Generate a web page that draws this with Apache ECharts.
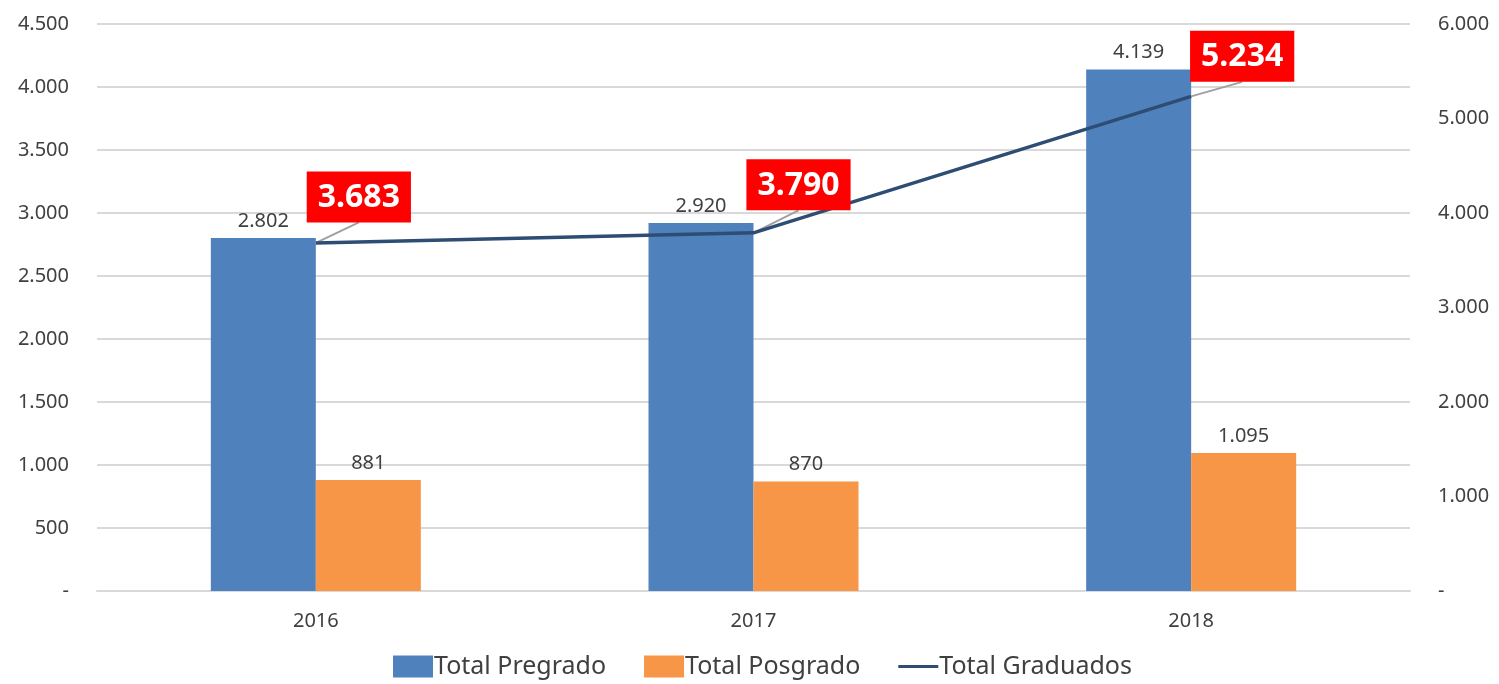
<!DOCTYPE html>
<html>
<head>
<meta charset="utf-8">
<script src="https://cdn.jsdelivr.net/npm/echarts@6/dist/echarts.min.js"></script>
<style>
  html, body { margin: 0; padding: 0; background: #fff; }
  #chart { width: 1499px; height: 684px; }
</style>
</head>
<body>
<div id="chart"></div>
<script>
// datos
const years = ['2016', '2017', '2018'];
const pregrado = [2802, 2920, 4139];
const posgrado = [881, 870, 1095];
const graduados = [3683, 3790, 5234];

// desplazamiento de las etiquetas rojas (px)
const labelShift = [[43, -15.5], [45, -17.5], [51, -9.5]];
const LABEL_DIST = 5;

const FONT = '"Noto Sans", "Open Sans", sans-serif';
const fmt = v => v === 0 ? '-' : String(v).replace(/\B(?=(\d{3})+(?!\d))/g, '.');

const chart = echarts.init(document.getElementById('chart'));
chart.setOption({
  animation: false,
  textStyle: { fontFamily: FONT },
  grid: { left: 97, right: 89, top: 24, bottom: 93 },
  legend: {
    bottom: 0,
    left: 388,
    itemGap: 38,
    itemWidth: 40,
    itemHeight: 22,
    textStyle: { fontSize: 25, color: '#404040', fontFamily: FONT, padding: [0, 0, 0, -4] },
    data: [
      { name: 'Total Pregrado', icon: 'rect' },
      { name: 'Total Posgrado', icon: 'rect' },
      { name: 'Total Graduados', icon: 'path://M0,0 M0,9.5 L40,9.5 L40,12.5 L0,12.5 Z M40,22' }
    ]
  },
  xAxis: {
    type: 'category',
    data: years,
    axisLine: { lineStyle: { color: '#d9d9d9', width: 2 } },
    axisTick: { show: false },
    axisLabel: { fontSize: 20, color: '#404040', margin: 20 }
  },
  yAxis: [
    {
      type: 'value', min: 0, max: 4500, interval: 500,
      axisLabel: { fontSize: 20, color: '#404040', margin: 28, formatter: fmt },
      splitLine: { lineStyle: { color: '#d9d9d9', width: 2 } },
      axisLine: { show: false }, axisTick: { show: false }
    },
    {
      type: 'value', min: 0, max: 6000, interval: 1000,
      position: 'right',
      axisLabel: { fontSize: 20, color: '#404040', margin: 28, formatter: fmt },
      splitLine: { show: false },
      axisLine: { show: false }, axisTick: { show: false }
    }
  ],
  series: [
    {
      name: 'Total Pregrado', type: 'bar', data: pregrado,
      barWidth: 105, barGap: '0%',
      itemStyle: { color: '#4f81bd' },
      label: { show: true, position: 'top', distance: 7, fontSize: 20, color: '#404040', formatter: p => fmt(p.value) }
    },
    {
      name: 'Total Posgrado', type: 'bar', data: posgrado,
      barWidth: 105,
      itemStyle: { color: '#f79646' },
      label: { show: true, position: 'top', distance: 7, fontSize: 20, color: '#404040', formatter: p => fmt(p.value) }
    },
    {
      // lineas guia hacia las etiquetas rojas
      type: 'custom', yAxisIndex: 1, z: 4,
      data: graduados.map((v, i) => [i, v]),
      silent: true,
      renderItem: (params, api) => {
        const pt = api.coord([api.value(0), api.value(1)]);
        const s = labelShift[params.dataIndex];
        return {
          type: 'line',
          shape: { x1: pt[0], y1: pt[1], x2: pt[0] + s[0], y2: pt[1] - LABEL_DIST + s[1] },
          style: { stroke: '#a0a0a0', lineWidth: 2 }
        };
      }
    },
    {
      name: 'Total Graduados', type: 'line', yAxisIndex: 1, data: graduados,
      symbol: 'circle', symbolSize: 0.1,
      lineStyle: { color: '#2e4d74', width: 3.5 },
      itemStyle: { color: '#2e4d74' },
      z: 5,
      label: {
        show: true, position: 'top', distance: LABEL_DIST,
        backgroundColor: '#ff0000', color: '#fff', fontWeight: 'bold',
        fontSize: 32, lineHeight: 37, padding: [8, 11, 6, 11],
        formatter: p => fmt(p.value)
      },
      labelLayout: p => ({ dx: labelShift[p.dataIndex][0], dy: labelShift[p.dataIndex][1] })
    }
  ]
});
</script>
</body>
</html>
